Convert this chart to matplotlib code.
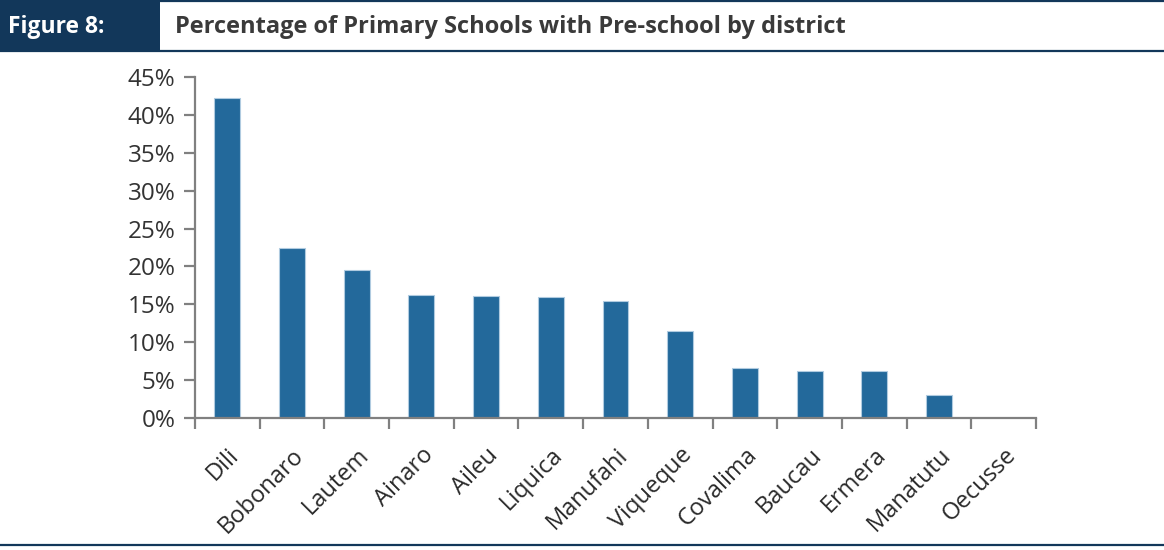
import matplotlib.pyplot as plt
from matplotlib.patches import Rectangle
from matplotlib.lines import Line2D
from matplotlib.ticker import FixedLocator, PercentFormatter
from matplotlib.transforms import ScaledTranslation

plt.rcParams['font.family'] = ['Open Sans', 'DejaVu Sans']

districts = ['Dili', 'Bobonaro', 'Lautem', 'Ainaro', 'Aileu', 'Liquica', 'Manufahi',
             'Viqueque', 'Covalima', 'Baucau', 'Ermera', 'Manatutu', 'Oecusse']
pct = [42.2, 22.5, 19.6, 16.3, 16.1, 16.0, 15.5, 11.5, 6.6, 6.2, 6.2, 3.1, 0.0]

W, H = 1164, 550
fig = plt.figure(figsize=(W / 100, H / 100), dpi=100)
navy = '#12375a'

# header
fig.patches.append(Rectangle((0, 1 - 50 / H), 160 / W, 50 / H, transform=fig.transFigure,
                             facecolor=navy, edgecolor='none'))
fig.lines.append(Line2D([0, 1], [1 - 51 / H, 1 - 51 / H], transform=fig.transFigure, color=navy, lw=1.6))
fig.lines.append(Line2D([0, 1], [1 - 1 / H, 1 - 1 / H], transform=fig.transFigure, color=navy, lw=1.6))
fig.lines.append(Line2D([0, 1], [1 - 545 / H, 1 - 545 / H], transform=fig.transFigure, color=navy, lw=1.6))
fig.text(8 / W, 1 - 27 / H, 'Figure 8:', color='white', fontsize=16.5, fontweight='bold', va='center')
fig.text(175 / W, 1 - 27 / H, 'Percentage of Primary Schools with Pre-school by district',
         color='#3a3a3a', fontsize=17, fontweight='bold', va='center')

ax = fig.add_axes([195 / W, (H - 418.3) / H, (1036 - 195) / W, (418.3 - 76.7) / H])
x = range(len(districts))
ax.bar(x, pct, width=0.4, color='#23699b', edgecolor='#b0cbe0', linewidth=0.8)

ax.set_xlim(-0.5, len(districts) - 0.5)
ax.set_ylim(0, 45)
ax.set_yticks(range(0, 50, 5))
ax.yaxis.set_major_formatter(PercentFormatter(decimals=0))
ax.set_xticks(list(x))
ax.set_xticklabels(districts, rotation=45, ha='right', va='top', rotation_mode='anchor')
shift = ScaledTranslation(3 / 100, 0, fig.dpi_scale_trans)
for lbl in ax.get_xticklabels():
    lbl.set_transform(lbl.get_transform() + shift)
ax.xaxis.set_minor_locator(FixedLocator([i - 0.5 for i in range(len(districts) + 1)]))
ax.tick_params(axis='x', which='major', length=0, pad=18, labelsize=17, labelcolor='#2a2a2a')
ax.tick_params(axis='x', which='minor', length=8, width=1.6, color='#808080', direction='out')
ax.tick_params(axis='y', length=8, width=1.6, color='#808080', labelsize=17.5, labelcolor='#333333', pad=6)

for s in ['top', 'right']:
    ax.spines[s].set_visible(False)
for s in ['left', 'bottom']:
    ax.spines[s].set_color('#808080')
    ax.spines[s].set_linewidth(1.6)

fig.savefig('out.png', dpi=100)
